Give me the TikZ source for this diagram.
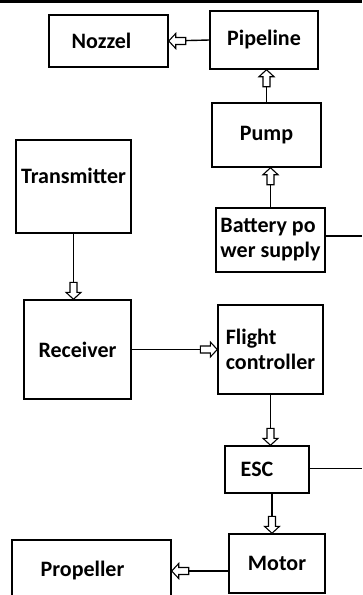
\documentclass[tikz,border=0pt]{standalone}
\usepackage{fontspec}
\setmainfont{Carlito}
\usepackage{tikz}
\usetikzlibrary{arrows.meta}

\tikzset{
  box/.style={draw, line width=1.4pt, inner sep=1pt, align=left,
    font=\bfseries\fontsize{22}{25}\selectfont},
  pics/hollowhead/.style={code={
    \draw[fill=white, line width=1.1pt] (0,0) -- (-7,-7.5) -- (-7,-3.5) -- (-17,-3.5)
      -- (-17,3.5) -- (-7,3.5) -- (-7,7.5) -- cycle;}}
}

\begin{document}
\begin{tikzpicture}[x=1pt, y=-1pt, line width=1.4pt]
  \useasboundingbox (0,0) rectangle (362,595);
  \clip (0,0) rectangle (362,595);
  \fill (0,0) rectangle (362,3);
  % spraying chain
  \node[box, minimum width=119, minimum height=52] (noz) at (108.5,41) {Nozzel\hspace{14pt}};
  \node[box, minimum width=108, minimum height=58] (pipe) at (264,40) {Pipeline};
  \node[box, minimum width=109, minimum height=64] (pump) at (266.5,135) {Pump};
  \node[box, minimum width=109, minimum height=64] (batt) at (270.5,240) {Battery po\\wer supply};
  % control chain
  \node[box, inner sep=0pt, text height=14pt, text depth=20pt,
    minimum width=115, minimum height=93] (trans) at (73.5,186.5) {Transmitter};
  \node[box, minimum width=107, minimum height=99] (recv) at (77.5,349.5) {Receiver};
  \node[box, minimum width=105, minimum height=89] (fc) at (270.5,349.5) {Flight\\controller};
  \node[box, minimum width=84, minimum height=47] (esc) at (267,469.5) {ESC\hspace{20pt}};
  \node[box, minimum width=96, minimum height=59] (motor) at (277,563.5) {Motor};
  \node[box, minimum width=159, minimum height=62] (prop) at (91.5,571) {Propeller\hspace{18pt}};
  \coordinate (edge) at (362,0);

  \draw (pipe.west) -- (noz.east);
  \pic[rotate=180] at (noz.east) {hollowhead};
  \draw (pump.north) -- (pump.north |- pipe.south);
  \pic[rotate=90] at (pump.north |- pipe.south) {hollowhead};
  \draw (batt.north) -- (batt.north |- pump.south);
  \pic[rotate=90] at (batt.north |- pump.south) {hollowhead};
  \draw ([yshift=4pt]batt.east) -- ([yshift=4pt]batt.east -| edge);

  \draw (trans.south) -- (trans.south |- recv.north);
  \pic[rotate=-90] at (trans.south |- recv.north) {hollowhead};
  \draw (recv.east) -- (fc.west);
  \pic at (fc.west) {hollowhead};
  \draw (fc.south) -- (fc.south |- esc.north);
  \pic[rotate=-90] at (fc.south |- esc.north) {hollowhead};
  \draw ([yshift=1pt]esc.east) -- ([yshift=1pt]esc.east -| edge);
  \draw ([xshift=5pt]esc.south) -- ([xshift=5pt]esc.south |- motor.north);
  \pic[rotate=-90] at ([xshift=5pt]esc.south |- motor.north) {hollowhead};
  \draw (prop.east -| motor.west) -- (prop.east);
  \pic[rotate=180] at (prop.east) {hollowhead};
\end{tikzpicture}
\end{document}
